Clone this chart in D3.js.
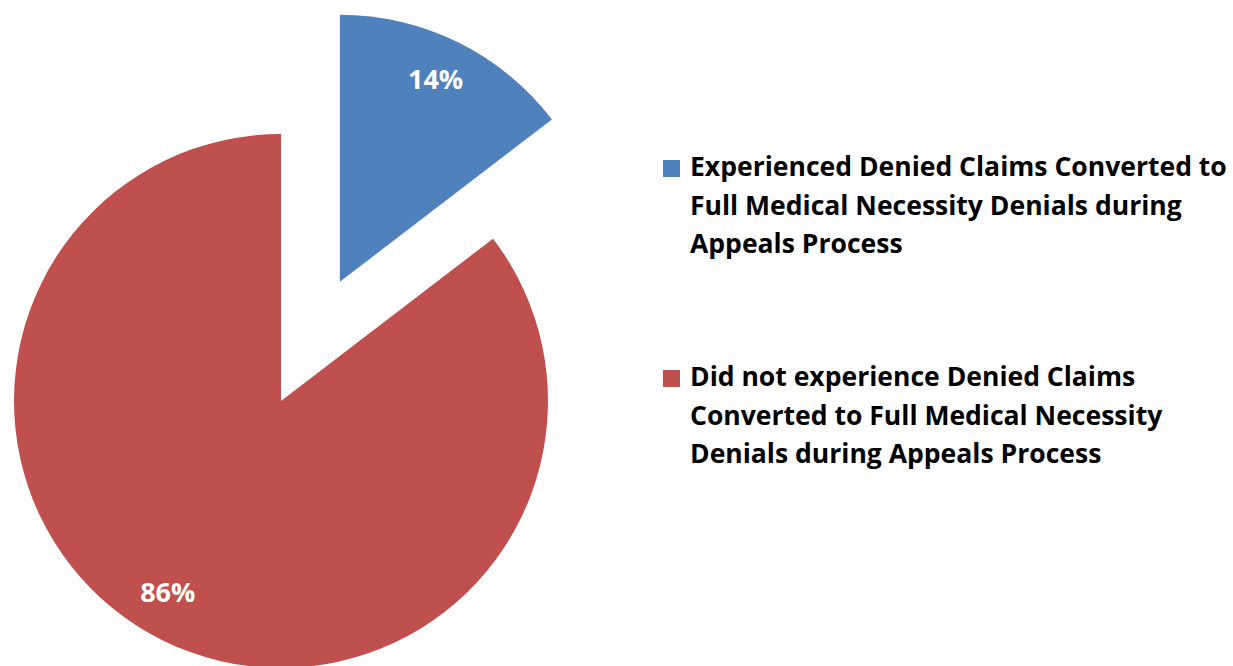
<!DOCTYPE html>
<html>
<head>
<meta charset="utf-8">
<script src="https://cdn.jsdelivr.net/npm/d3@7"></script>
<style>
  html, body { margin: 0; padding: 0; background: #fff; }
  svg { display: block; }
  text { font-family: "Open Sans", "Noto Sans", sans-serif; font-weight: bold; }
</style>
</head>
<body>
<svg id="chart" width="1233" height="666"></svg>
<script>
// Data
const categories = [
  "Experienced Denied Claims Converted to Full Medical Necessity Denials during Appeals Process",
  "Did not experience Denied Claims Converted to Full Medical Necessity Denials during Appeals Process"
];
const values = [14.6, 85.4];
const valueLabels = ["14%", "86%"];
const legendLines = [
  ["Experienced Denied Claims Converted to", "Full Medical Necessity Denials during", "Appeals Process"],
  ["Did not experience Denied Claims", "Converted to Full Medical Necessity", "Denials during Appeals Process"]
];
const colors = ["#4F81BD", "#C0504D"];
const explode = [133, 0];
const labelRadius = [224, 222];
const labelAngleShift = [-1, 4.4]; // degrees

const svg = d3.select("#chart");
const cx = 281, cy = 401, r = 267;

const color = d3.scaleOrdinal().domain(categories).range(colors);
const pie = d3.pie().sort(null).value(d => d.value);
const data = categories.map((c, i) => ({ cat: c, value: values[i], label: valueLabels[i], ex: explode[i], lr: labelRadius[i], ls: labelAngleShift[i] }));
const arcs = pie(data);
const arc = d3.arc().innerRadius(0).outerRadius(r);

const g = svg.append("g").attr("transform", `translate(${cx},${cy})`);
const slices = g.selectAll("g.slice").data(arcs).join("g")
  .attr("class", "slice")
  .attr("transform", d => {
    const a = (d.startAngle + d.endAngle) / 2;
    return `translate(${d.data.ex * Math.sin(a)},${-d.data.ex * Math.cos(a)})`;
  });
slices.append("path")
  .attr("d", arc)
  .attr("fill", d => color(d.data.cat));
slices.append("text")
  .attr("transform", d => {
    const a = (d.startAngle + d.endAngle) / 2 + d.data.ls * Math.PI / 180;
    return `translate(${d.data.lr * Math.sin(a)},${-d.data.lr * Math.cos(a)})`;
  })
  .attr("text-anchor", "middle")
  .attr("dy", "0.36em")
  .attr("fill", "#fff")
  .attr("font-size", 27)
  .text(d => d.data.label);

// Legend
const legendX = 663, textX = 690;
const legendTop = [176, 386];
const lineH = 38.5;
const lg = svg.append("g");
legendLines.forEach((lines, i) => {
  lg.append("rect")
    .attr("x", legendX).attr("y", legendTop[i] - 16)
    .attr("width", 17).attr("height", 17)
    .attr("fill", colors[i]);
  lines.forEach((t, j) => {
    lg.append("text")
      .attr("class", "leg")
      .attr("x", textX)
      .attr("y", legendTop[i] + j * lineH)
      .attr("font-size", 25)
      .attr("fill", "#000")
      .text(t);
  });
});
// fit legend font so first line spans the reference width
const first = lg.select("text.leg").node();
const w = first.getComputedTextLength();
const fs = 25 * 537 / w;
lg.selectAll("text.leg").attr("font-size", fs);
</script>
</body>
</html>
